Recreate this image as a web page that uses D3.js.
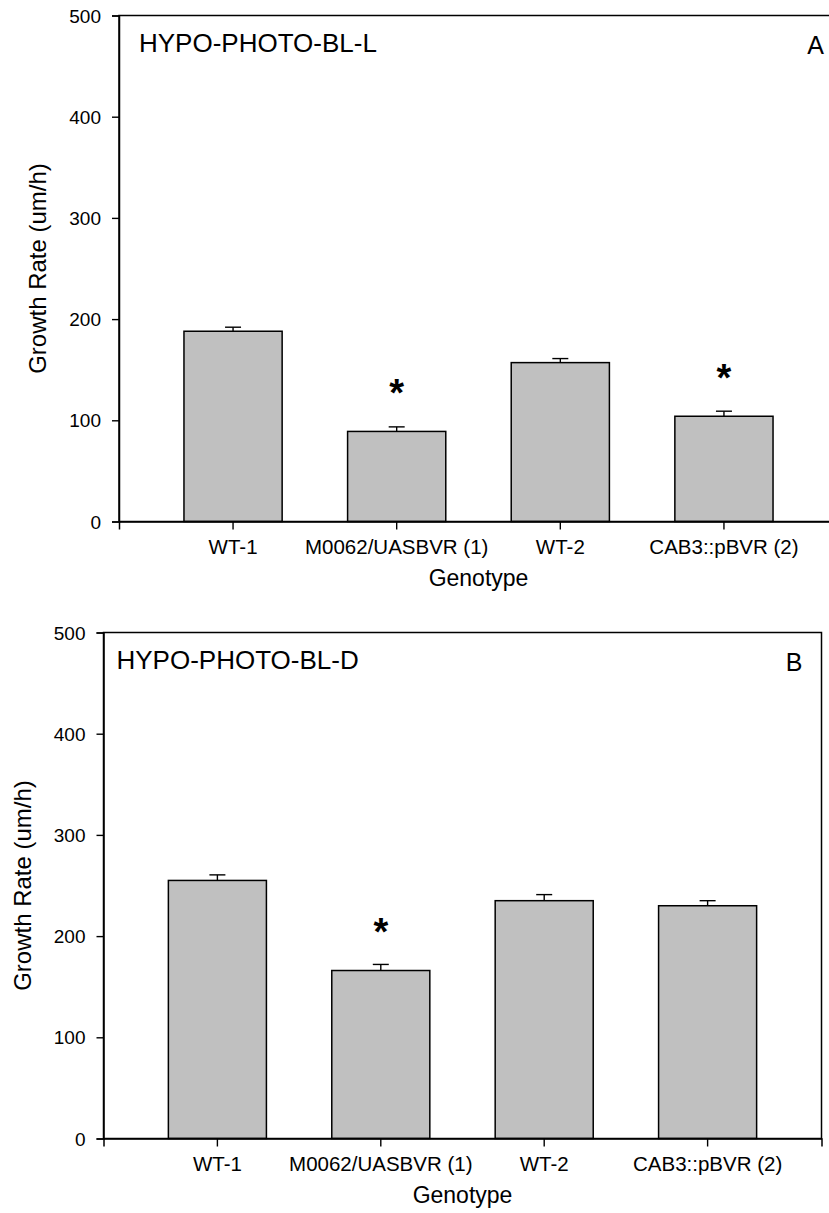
<!DOCTYPE html>
<html lang="en">

<head>
  <meta charset="UTF-8">
  <title>Growth Rate by Genotype</title>
  <script src="https://d3js.org/d3.v7.min.js"></script>
  <style>
    body { margin: 0; background: #fff; }
    svg text { font-family: "Liberation Sans", Arial, sans-serif; fill: #000; }
  </style>
</head>

<body>
  <div id="chart"></div>

  <script>
    // values
    const genotypes = ["WT-1", "M0062/UASBVR (1)", "WT-2", "CAB3::pBVR (2)"];
    const yTicks = [0, 100, 200, 300, 400, 500];

    // panel A (light)
    const growthL = [188, 89, 157, 104];
    const errorL = [4, 4.5, 4, 5];
    const starsL = [null, 135, null, 150];

    // panel B (dark)
    const growthD = [255, 166, 235, 230];
    const errorD = [5.5, 6, 6, 5];
    const starsD = [null, 212, null, null];

    const svg = d3.select("#chart")
      .append("svg")
      .attr("width", 829)
      .attr("height", 1213);

    function createPanel(opts) {
      const { left, top, width, height, values, errors, stars, title, letter, titleX, letterX, yLabelX } = opts;

      const g = svg.append("g")
        .attr("transform", `translate(${left},${top})`);

      const x = d3.scaleBand()
        .domain(genotypes)
        .range([0, width])
        .paddingInner(0.4)
        .paddingOuter(0.397);

      const y = d3.scaleLinear()
        .domain([0, 500])
        .range([height, 0]);

      const data = genotypes.map((k, i) => ({ k, v: values[i], e: errors[i], s: stars[i] }));

      // error bars (upper only)
      g.selectAll(".err")
        .data(data)
        .enter().append("line")
        .attr("x1", d => x(d.k) + x.bandwidth() / 2)
        .attr("x2", d => x(d.k) + x.bandwidth() / 2)
        .attr("y1", d => y(d.v))
        .attr("y2", d => y(d.v + d.e))
        .attr("stroke", "#000")
        .attr("stroke-width", 1.4);

      g.selectAll(".cap")
        .data(data)
        .enter().append("line")
        .attr("x1", d => x(d.k) + x.bandwidth() / 2 - 8)
        .attr("x2", d => x(d.k) + x.bandwidth() / 2 + 8)
        .attr("y1", d => y(d.v + d.e))
        .attr("y2", d => y(d.v + d.e))
        .attr("stroke", "#000")
        .attr("stroke-width", 1.4);

      g.selectAll(".bar")
        .data(data)
        .enter().append("rect")
        .attr("x", d => x(d.k))
        .attr("y", d => y(d.v))
        .attr("width", x.bandwidth())
        .attr("height", d => height - y(d.v))
        .attr("fill", "#c0c0c0")
        .attr("stroke", "#000")
        .attr("stroke-width", 1.5);

      // significance marks
      g.selectAll(".star")
        .data(data.filter(d => d.s !== null))
        .enter().append("text")
        .attr("x", d => x(d.k) + x.bandwidth() / 2)
        .attr("y", d => y(d.s) + 21)
        .attr("text-anchor", "middle")
        .style("font-size", "38px")
        .style("font-weight", "bold")
        .text("*");

      // frame
      g.append("rect")
        .attr("width", width)
        .attr("height", height)
        .attr("fill", "none")
        .attr("stroke", "#000")
        .attr("stroke-width", 1.5);

      const yAxis = g.append("g")
        .call(d3.axisLeft(y).tickValues(yTicks).tickSize(7).tickPadding(11).tickFormat(d3.format("d")));
      yAxis.select(".domain").attr("stroke-width", 1.5);
      yAxis.selectAll(".tick line").attr("stroke-width", 1.4);
      yAxis.selectAll("text").style("font-size", "19px").attr("dy", "0.35em");

      const xAxis = g.append("g")
        .attr("transform", `translate(0,${height})`)
        .call(d3.axisBottom(x).tickSize(8).tickPadding(10));
      xAxis.select(".domain").attr("stroke-width", 1.5);
      xAxis.selectAll(".tick line").attr("stroke-width", 1.4);
      xAxis.selectAll("text").style("font-size", "20.5px");

      g.append("text")
        .attr("x", width / 2)
        .attr("y", height + 64)
        .attr("text-anchor", "middle")
        .style("font-size", "23px")
        .text("Genotype");

      g.append("text")
        .attr("transform", "rotate(-90)")
        .attr("x", -height / 2)
        .attr("y", yLabelX)
        .attr("text-anchor", "middle")
        .style("font-size", "24px")
        .text("Growth Rate (um/h)");

      g.append("text")
        .attr("x", titleX)
        .attr("y", 36)
        .style("font-size", "26px")
        .text(title);

      g.append("text")
        .attr("x", letterX)
        .attr("y", 38)
        .attr("text-anchor", "end")
        .style("font-size", "25px")
        .text(letter);
    }

    createPanel({
      left: 119, top: 15.5, width: 719, height: 506,
      values: growthL, errors: errorL, stars: starsL,
      title: "HYPO-PHOTO-BL-L", letter: "A",
      titleX: 20, letterX: 705, yLabelX: -73
    });

    createPanel({
      left: 103.5, top: 632.5, width: 718, height: 506,
      values: growthD, errors: errorD, stars: starsD,
      title: "HYPO-PHOTO-BL-D", letter: "B",
      titleX: 13, letterX: 699, yLabelX: -73
    });
  </script>
</body>

</html>
